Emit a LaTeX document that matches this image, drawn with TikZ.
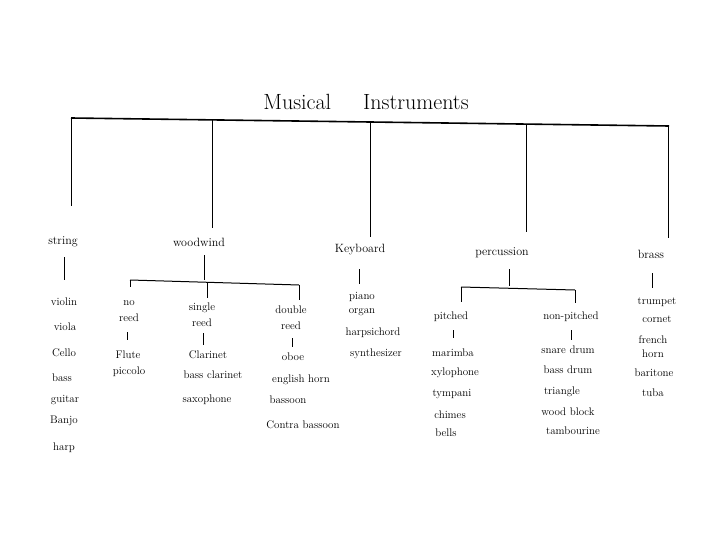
\documentclass[tikz,border=0pt]{standalone}
\begin{document}
\begin{tikzpicture}[x=1pt,y=-1pt,
  ttl/.style={font=\fontsize{22}{26}\selectfont, inner sep=0pt},
  cat/.style={font=\fontsize{12}{14}\selectfont, inner sep=0pt},
  item/.style={font=\fontsize{11}{16}\selectfont, inner sep=0pt, align=center},
  main/.style={line width=1.6pt},
  link/.style={line width=0.8pt},
  sub/.style={line width=1pt}]
\useasboundingbox (0,0) rectangle (720,540);
\fill[white] (0,0) rectangle (720,540);

% title
\node[ttl] (title) at (366,102) {Musical\hspace{32pt}Instruments};

% top bar
\coordinate (bL) at (71,118);
\coordinate (bR) at (669,126);
\draw[main] (bL) -- (bR);
\coordinate (b1) at (71,118);   \coordinate (e1) at (71,206);
\coordinate (b2) at (212,120);  \coordinate (e2) at (212,228);
\coordinate (b3) at (370,122);  \coordinate (e3) at (370,237);
\coordinate (b4) at (526,124);  \coordinate (e4) at (526,232);
\coordinate (b5) at (668,126);  \coordinate (e5) at (668,238);
\draw[link] (b1) -- (e1);
\draw[link] (b2) -- (e2);
\draw[link] (b3) -- (e3);
\draw[link] (b4) -- (e4);
\draw[link] (b5) -- (e5);

% categories
\node[cat] (string) at (63,242) {string};
\node[cat] (woodwind) at (199,242) {woodwind};
\node[cat] (keyboard) at (360,250) {Keyboard};
\node[cat] (percussion) at (502,253) {percussion};
\node[cat] (brass) at (651,254) {brass};

% string
\coordinate (s1) at (64,257); \coordinate (s2) at (64,280);
\draw[sub] (s1) -- (s2);
\node[item] (violin) at (64,302) {violin};
\node[item] (viola) at (65,327) {viola};
\node[item] (cello) at (64,353) {Cello};
\node[item] (bass) at (62,378) {bass};
\node[item] (guitar) at (65,400) {guitar};
\node[item] (banjo) at (64,421) {Banjo};
\node[item] (harp) at (64,448) {harp};

% woodwind
\coordinate (w1) at (204,255); \coordinate (w2) at (204,280);
\draw[sub] (w1) -- (w2);
\coordinate (wL) at (130,280); \coordinate (wR) at (299,285);
\draw[sub] (wL) -- (wR);
\coordinate (wLd) at (130,287);
\coordinate (wM) at (207,282); \coordinate (wMd) at (207,298);
\coordinate (wRd) at (299,300);
\draw[sub] (wL) -- (wLd);
\draw[sub] (wM) -- (wMd);
\draw[sub] (wR) -- (wRd);
\node[item] (noreed) at (129,311.5) {no\\reed};
\node[item] (single) at (202,314.5) {single\\reed};
\node[item] (double) at (291,318) {double\\reed};
\coordinate (n1) at (127,332); \coordinate (n2) at (127,340);
\coordinate (g1) at (203,333); \coordinate (g2) at (203,345);
\coordinate (d1) at (292,338); \coordinate (d2) at (292,347);
\draw[sub] (n1) -- (n2);
\draw[sub] (g1) -- (g2);
\draw[sub] (d1) -- (d2);
\node[item] (flute) at (128,355) {Flute};
\node[item] (piccolo) at (129,372) {piccolo};
\node[item] (clarinet) at (208,355) {Clarinet};
\node[item] (bassclar) at (213,375) {bass clarinet};
\node[item] (sax) at (207,400) {saxophone};
\node[item] (oboe) at (293,357) {oboe};
\node[item] (english) at (301,380) {english horn};
\node[item] (bassoon) at (288,400) {bassoon};
\node[item] (contra) at (303,425) {Contra bassoon};

% keyboard
\coordinate (k1) at (359,269); \coordinate (k2) at (359,284);
\draw[sub] (k1) -- (k2);
\node[item] (piano) at (362,297) {piano};
\node[item] (organ) at (362,312) {organ};
\node[item] (harpsi) at (373,333) {harpsichord};
\node[item] (synth) at (376,354) {synthesizer};

% percussion
\coordinate (p1) at (509,269); \coordinate (p2) at (509,286);
\draw[sub] (p1) -- (p2);
\coordinate (pL) at (461,287); \coordinate (pR) at (575,290);
\draw[sub] (pL) -- (pR);
\coordinate (pLd) at (461,302); \coordinate (pRd) at (575,303);
\draw[sub] (pL) -- (pLd);
\draw[sub] (pR) -- (pRd);
\node[item] (pitched) at (451,317) {pitched};
\node[item] (nonpitched) at (571,317) {non-pitched};
\coordinate (q1) at (453,330); \coordinate (q2) at (453,338);
\coordinate (r1) at (571,330); \coordinate (r2) at (571,340);
\draw[sub] (q1) -- (q2);
\draw[sub] (r1) -- (r2);
\node[item] (marimba) at (453,353) {marimba};
\node[item] (xylo) at (455,373) {xylophone};
\node[item] (tympani) at (452,394) {tympani};
\node[item] (chimes) at (450,415) {chimes};
\node[item] (bells) at (446,433) {bells};
\node[item] (snare) at (568,350) {snare drum};
\node[item] (bassdrum) at (568,370) {bass drum};
\node[item] (triangle) at (562,392) {triangle};
\node[item] (woodblock) at (568,412) {wood block};
\node[item] (tamb) at (573,431) {tambourine};

% brass
\coordinate (x1) at (652,273); \coordinate (x2) at (652,288);
\draw[sub] (x1) -- (x2);
\node[item] (trumpet) at (657,302) {trumpet};
\node[item] (cornet) at (657,319) {cornet};
\node[item,font=\fontsize{11}{14}\selectfont] (french) at (653,347) {french\\horn};
\node[item] (baritone) at (654,373) {baritone};
\node[item] (tuba) at (653,393) {tuba};
\end{tikzpicture}
\end{document}
